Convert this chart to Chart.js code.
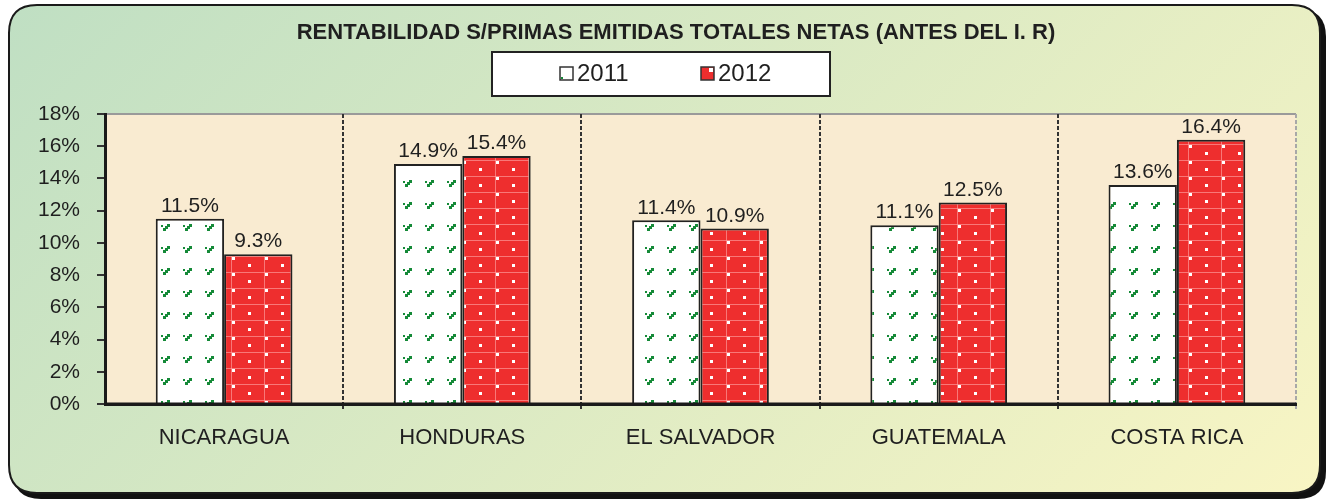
<!DOCTYPE html>
<html>
<head>
<meta charset="utf-8">
<script src="https://cdn.jsdelivr.net/npm/chart.js@4/dist/chart.umd.min.js"></script>
<style>
  html, body { margin: 0; padding: 0; background: #ffffff; }
  #wrap { width: 1331px; height: 501px; position: relative; }
</style>
</head>
<body>
<div id="wrap"><canvas id="myChart"></canvas></div>
<script>
"use strict";

const countries = ["NICARAGUA", "HONDURAS", "EL SALVADOR", "GUATEMALA", "COSTA RICA"];
const values2011 = [11.5, 14.9, 11.4, 11.1, 13.6];
const values2012 = [9.3, 15.4, 10.9, 12.5, 16.4];
const seriesNames = ["2011", "2012"];
const chartTitle = "RENTABILIDAD S/PRIMAS EMITIDAS TOTALES NETAS (ANTES DEL I. R)";

const FONT = "'Liberation Sans', Arial, sans-serif";
const TEXT = "#1f1f1f";

// green "step" marks on white
const makeGreenPattern = () => {
  const c = document.createElement("canvas");
  c.width = 22;
  c.height = 22;
  const g = c.getContext("2d");
  g.fillStyle = "#ffffff";
  g.fillRect(0, 0, 22, 22);
  g.fillStyle = "#158a38";
  g.fillRect(13, 4, 3, 3);
  g.fillRect(11, 6, 3, 3);
  g.fillRect(9, 8, 3, 3);
  g.fillRect(7, 5, 2, 2);
  return g.createPattern(c, "repeat");
};

// red with white dots and faint grid
const makeRedPattern = () => {
  const c = document.createElement("canvas");
  c.width = 33;
  c.height = 16;
  const g = c.getContext("2d");
  g.fillStyle = "#ee2e2e";
  g.fillRect(0, 0, 33, 16);
  g.fillStyle = "rgba(255, 170, 170, 0.6)";
  g.fillRect(0, 0, 33, 1);
  g.fillRect(0, 0, 1, 16);
  g.fillStyle = "#ffffff";
  g.fillRect(1, 1, 3, 3);
  g.fillRect(17, 8, 3, 3);
  return g.createPattern(c, "repeat");
};

const greenPattern = makeGreenPattern();
const redPattern = makeRedPattern();

const roundRect = (ctx, x, y, w, h, r) => {
  ctx.beginPath();
  ctx.moveTo(x + r, y);
  ctx.lineTo(x + w - r, y);
  ctx.quadraticCurveTo(x + w, y, x + w, y + r);
  ctx.lineTo(x + w, y + h - r);
  ctx.quadraticCurveTo(x + w, y + h, x + w - r, y + h);
  ctx.lineTo(x + r, y + h);
  ctx.quadraticCurveTo(x, y + h, x, y + h - r);
  ctx.lineTo(x, y + r);
  ctx.quadraticCurveTo(x, y, x + r, y);
  ctx.closePath();
};

const panelPlugin = {
  id: "panel",
  beforeDraw: (chart) => {
    const { ctx, chartArea } = chart;
    ctx.save();
    // shadow
    roundRect(ctx, 13, 9, 1313, 490, 28);
    ctx.fillStyle = "#111111";
    ctx.fill();
    // panel
    const grad = ctx.createLinearGradient(0, 0, 900, 900);
    grad.addColorStop(0, "#bfdfc3");
    grad.addColorStop(1, "#f8f5c4");
    roundRect(ctx, 9, 5, 1311, 488, 28);
    ctx.fillStyle = grad;
    ctx.fill();
    ctx.lineWidth = 2;
    ctx.strokeStyle = "#1a1a1a";
    ctx.stroke();
    // plot area
    ctx.fillStyle = "#f9ebd1";
    ctx.fillRect(chartArea.left, chartArea.top, chartArea.right - chartArea.left, chartArea.bottom - chartArea.top);
    ctx.strokeStyle = "#9a9a9a";
    ctx.lineWidth = 2;
    ctx.beginPath();
    ctx.moveTo(chartArea.left, chartArea.top);
    ctx.lineTo(chartArea.right, chartArea.top);
    ctx.stroke();
    ctx.restore();
  },
  afterDatasetsDraw: (chart) => {
    const { ctx, chartArea } = chart;
    ctx.save();
    // value labels
    ctx.font = `21px ${FONT}`;
    ctx.fillStyle = TEXT;
    ctx.textAlign = "center";
    ctx.textBaseline = "bottom";
    chart.data.datasets.forEach((ds, i) => {
      chart.getDatasetMeta(i).data.forEach((bar, j) => {
        ctx.fillText(ds.data[j].toFixed(1) + "%", bar.x, bar.y - 2);
      });
    });
    // axis line again over the bars
    ctx.strokeStyle = "#1a1a1a";
    ctx.lineWidth = 3;
    ctx.beginPath();
    ctx.moveTo(chartArea.left - 1, chartArea.bottom);
    ctx.lineTo(chartArea.right, chartArea.bottom);
    ctx.stroke();
    ctx.restore();
  },
  afterDraw: (chart) => {
    const { ctx } = chart;
    ctx.save();
    // title
    ctx.font = `bold 22px ${FONT}`;
    ctx.fillStyle = TEXT;
    ctx.textAlign = "center";
    ctx.textBaseline = "middle";
    ctx.fillText(chartTitle, 676, 33);
    // legend box
    ctx.fillStyle = "#ffffff";
    ctx.fillRect(492, 52, 338, 44);
    ctx.strokeStyle = "#222222";
    ctx.lineWidth = 2;
    ctx.strokeRect(492, 52, 338, 44);
    const items = [
      { x: 560, bg: "#ffffff" },
      { x: 701, bg: "#ee2e2e" },
    ];
    ctx.font = `24px ${FONT}`;
    ctx.textAlign = "left";
    ctx.textBaseline = "middle";
    items.forEach((it, i) => {
      ctx.fillStyle = it.bg;
      ctx.fillRect(it.x, 67, 13, 13);
      if (i === 1) {
        ctx.fillStyle = "#ffffff";
        ctx.fillRect(it.x + 8, 68, 4, 4);
      } else {
        ctx.fillStyle = "#158a38";
        ctx.fillRect(it.x + 1, 77, 2, 2);
      }
      ctx.strokeStyle = "#333333";
      ctx.lineWidth = 1.5;
      ctx.strokeRect(it.x, 67, 13, 13);
      ctx.fillStyle = TEXT;
      ctx.fillText(seriesNames[i], it.x + 17, 74);
    });
    ctx.restore();
  },
};

const ctx = document.getElementById("myChart").getContext("2d");

new Chart(ctx, {
  type: "bar",
  data: {
    labels: countries,
    datasets: [
      {
        label: seriesNames[0],
        data: values2011,
        backgroundColor: greenPattern,
        borderColor: "#222222",
        borderWidth: 2,
      },
      {
        label: seriesNames[1],
        data: values2012,
        backgroundColor: redPattern,
        borderColor: "#222222",
        borderWidth: 2,
      },
    ],
  },
  options: {
    responsive: true,
    maintainAspectRatio: false,
    animation: false,
    layout: {
      padding: { top: 114, right: 35, bottom: 0, left: 0 },
    },
    datasets: {
      bar: {
        categoryPercentage: 0.574,
        barPercentage: 1,
      },
    },
    plugins: {
      legend: { display: false },
      title: { display: false },
      tooltip: { enabled: false },
    },
    scales: {
      x: {
        afterFit: (scale) => {
          scale.height = 97;
        },
        grid: {
          offset: true,
          drawOnChartArea: true,
          drawTicks: true,
          tickLength: 5,
          lineWidth: 2,
          color: (c) => {
            if (c.type !== "tick") return "#a8a8a8";
            return c.index === 0 ? "rgba(0,0,0,0)" : "#333333";
          },
        },
        border: {
          display: true,
          color: "#1a1a1a",
          width: 3,
          dash: [4, 2],
        },
        ticks: {
          color: TEXT,
          padding: 16,
          font: { size: 22, family: FONT },
        },
      },
      y: {
        min: 0,
        max: 18,
        afterFit: (scale) => {
          scale.width = 105;
        },
        grid: {
          drawOnChartArea: false,
          drawTicks: true,
          tickLength: 8,
          lineWidth: 2,
          color: "#333333",
        },
        border: {
          display: true,
          color: "#1a1a1a",
          width: 3,
        },
        ticks: {
          stepSize: 2,
          color: TEXT,
          padding: 17,
          font: { size: 21, family: FONT },
          callback: (v) => v + "%",
        },
      },
    },
  },
  plugins: [panelPlugin],
});
</script>
</body>
</html>
